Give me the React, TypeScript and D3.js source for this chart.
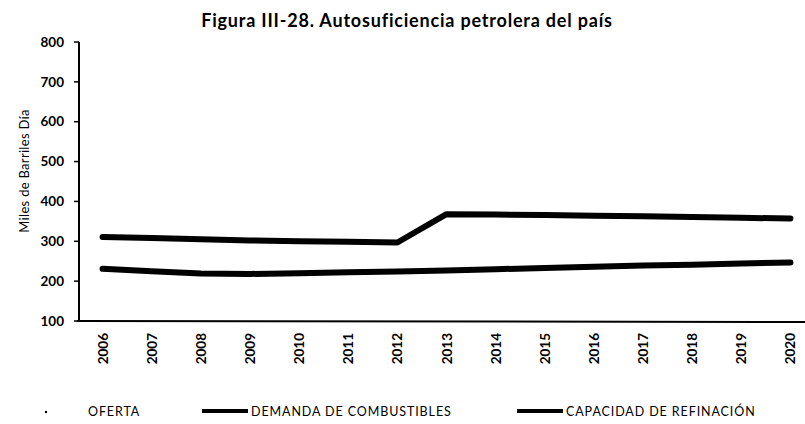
import React from "react";
import * as d3 from "d3";

const years = ["2006","2007","2008","2009","2010","2011","2012","2013","2014","2015","2016","2017","2018","2019","2020"];
const demanda = [231,225,219,218,220,222,224,227,230,233,236,239,241,244,247];
const capacidad = [311,308,305,302,300,299,297,368,367,366,364,363,361,359,357];
const yTicks = [100,200,300,400,500,600,700,800];
const title = "Figura III-28. Autosuficiencia petrolera del país";
const yTitle = "Miles de Barriles Día";
const legendLabels = ["OFERTA","DEMANDA DE COMBUSTIBLES","CAPACIDAD DE REFINACIÓN"];

export default function App() {
  const W = 805, H = 424;
  const x = d3.scalePoint<string>().domain(years).range([78, 815]).padding(0.5);
  const y = d3.scaleLinear().domain([100, 800]).range([321, 42]);
  const line = d3.line<number>().x((_, i) => x(years[i])!).y(d => y(d));
  const font = "Lato, 'Open Sans', sans-serif";
  return (
    <svg width={W} height={H} style={{ position: "absolute", left: 0, top: 0, background: "#fff" }} fontFamily={font}>
      <text x={407} y={27} textAnchor="middle" fontSize={18} letterSpacing={0.8} fontWeight="bold" fill="#000">{title}</text>
      {/* y axis */}
      <line x1={79} x2={79} y1={y(800)} y2={y(100)} stroke="#000" strokeWidth={2} />
      {yTicks.map(t => (
        <g key={t}>
          <line x1={74} x2={79} y1={y(t)} y2={y(t)} stroke="#000" strokeWidth={1.5} />
          <text x={64} y={y(t)} dy="0.35em" textAnchor="end" fontSize={13.5} fontWeight="bold" fill="#000">{t}</text>
        </g>
      ))}
      <text transform={`translate(29,171) rotate(-90)`} textAnchor="middle" fontSize={13} letterSpacing={0.3} fill="#000">{yTitle}</text>
      {/* x axis */}
      <line x1={77} x2={805} y1={y(100)} y2={y(100) + 1} stroke="#000" strokeWidth={2} />
      {years.map(yr => (
        <text key={yr} transform={`translate(${x(yr)! + 5},333) rotate(-90)`} textAnchor="end" fontSize={13.5} fontWeight="bold" fill="#000">{yr}</text>
      ))}
      {/* lines */}
      <path d={line(capacidad)!} fill="none" stroke="#000" strokeWidth={6} strokeLinecap="round" strokeLinejoin="round" />
      <path d={line(demanda)!} fill="none" stroke="#000" strokeWidth={6} strokeLinecap="round" strokeLinejoin="round" />
      {/* legend */}
      <circle cx={46} cy={412} r={1.2} fill="#000" />
      <text x={88} y={416} fontSize={12.5} letterSpacing={0.9} fill="#000">{legendLabels[0]}</text>
      <line x1={202} x2={248} y1={411} y2={411} stroke="#000" strokeWidth={4} />
      <text x={251} y={416} fontSize={12.5} letterSpacing={0.9} fill="#000">{legendLabels[1]}</text>
      <line x1={517} x2={563} y1={411} y2={411} stroke="#000" strokeWidth={4} />
      <text x={566} y={416} fontSize={12.5} letterSpacing={0.9} fill="#000">{legendLabels[2]}</text>
    </svg>
  );
}
